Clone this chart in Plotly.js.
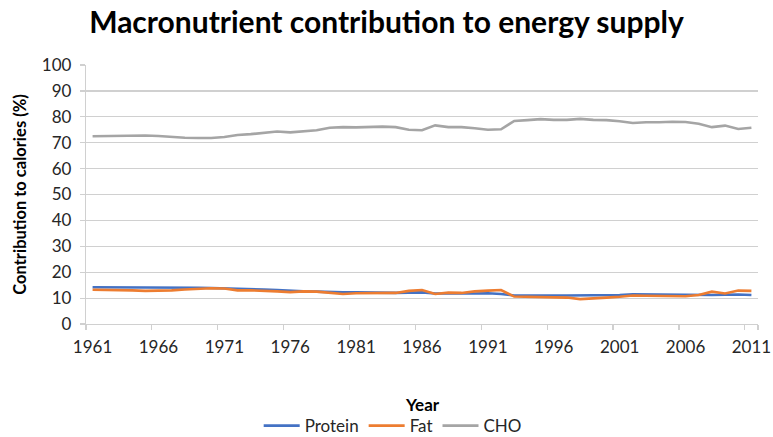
<!DOCTYPE html>
<html>
<head>
<meta charset="utf-8">
<script src="https://cdn.plot.ly/plotly-3.0.1.min.js"></script>
<style>html,body{margin:0;padding:0;background:#fff;}#chart{width:773px;height:437px;}</style>
</head>
<body>
<div id="chart"></div>
<script>
const years = [1961,1962,1963,1964,1965,1966,1967,1968,1969,1970,1971,1972,1973,1974,1975,1976,1977,1978,1979,1980,1981,1982,1983,1984,1985,1986,1987,1988,1989,1990,1991,1992,1993,1994,1995,1996,1997,1998,1999,2000,2001,2002,2003,2004,2005,2006,2007,2008,2009,2010,2011];
const protein = [14.2,14.2,14.1,14.1,14.0,14.0,14.0,14.1,14.0,13.9,13.8,13.7,13.5,13.3,13.1,12.8,12.6,12.5,12.3,12.2,12.2,12.1,12.1,12.0,12.1,12.2,11.8,11.7,11.8,11.8,11.9,11.6,11.0,11.0,10.9,11.0,11.0,11.0,11.0,11.1,11.2,11.5,11.4,11.3,11.3,11.2,11.2,11.2,11.3,11.4,11.2];
const fat = [13.2,13.2,13.1,13.0,12.8,12.8,13.0,13.3,13.5,13.8,13.7,13.0,13.0,12.9,12.6,12.3,12.6,12.5,12.0,11.6,11.9,12.0,11.9,12.0,12.8,13.1,11.6,12.1,12.0,12.6,12.9,13.1,10.6,10.5,10.3,10.2,10.2,9.6,10.0,10.2,10.5,11.0,10.9,10.8,10.8,10.7,11.2,12.5,11.8,12.9,12.8];
const cho = [72.5,72.6,72.8,72.9,72.8,72.6,72.2,71.9,71.8,71.8,72.2,73.0,73.3,73.7,74.3,74.0,74.4,74.8,75.8,76.0,75.9,76.0,76.2,76.0,75.0,74.8,76.7,76.0,76.0,75.6,75.0,75.2,78.4,78.7,79.1,78.8,78.8,79.2,78.8,78.7,78.3,77.6,77.9,77.9,78.1,78.0,77.3,76.0,76.6,75.3,75.8];
const tickYears = [1961,1966,1971,1976,1981,1986,1991,1996,2001,2006,2011];
const tickBounds = [1960.5,1965.5,1970.5,1975.5,1980.5,1985.5,1990.5,1995.5,2000.5,2005.5,2010.5,2011.5];
const yTicks = [0,10,20,30,40,50,60,70,80,90,100];
const xTitle = 'Year';

const fontFam = 'Lato, "Open Sans", sans-serif';
const gridCol = '#d0d0d0';

const traces = [
  {x: years, y: protein, name: 'Protein', type: 'scatter', mode: 'lines', line: {color: '#4472C4', width: 2.6}},
  {x: years, y: fat, name: 'Fat', type: 'scatter', mode: 'lines', line: {color: '#ED7D31', width: 2.6}},
  {x: years, y: cho, name: 'CHO', type: 'scatter', mode: 'lines', line: {color: '#A5A5A5', width: 2.6}},
  {x: [null], y: [null], xaxis: 'x2', yaxis: 'y', showlegend: false, hoverinfo: 'skip', type: 'scatter', mode: 'lines'}
];

const layout = {
  width: 773, height: 437,
  margin: {l: 86, r: 15, t: 65, b: 113},
  paper_bgcolor: '#fff', plot_bgcolor: '#fff',
  font: {family: fontFam, size: 17, color: '#262626'},
  title: {text: '<b>Macronutrient contribution to energy supply</b>', font: {family: fontFam, size: 30, color: '#000'}, x: 0.5, xanchor: 'center', xref: 'container', y: 0.948, yanchor: 'middle', yref: 'container'},
  showlegend: true,
  legend: {orientation: 'h', x: 0.508, xanchor: 'center', xref: 'container', y: 0.025, yanchor: 'middle', yref: 'container', itemwidth: 36, font: {family: fontFam, size: 17, color: '#262626'}, traceorder: 'normal'},
  annotations: [
    {text: '<b>' + xTitle + '</b>', xref: 'paper', x: 0.5, xanchor: 'center', yref: 'paper', y: -0.3127, yanchor: 'middle', showarrow: false, font: {family: fontFam, size: 17, color: '#000'}}
  ],
  xaxis: {
    range: [1960.5, 2011.5], tickvals: tickYears, ticktext: tickYears.map(String),
    ticks: 'outside', ticklen: 7, tickcolor: 'rgba(0,0,0,0)',
    showgrid: false, zeroline: false, showline: true, linecolor: gridCol, linewidth: 1.2,
    tickfont: {family: fontFam, size: 17, color: '#262626'},
    automargin: false
  },
  xaxis2: {
    overlaying: 'x', anchor: 'y', side: 'bottom', range: [1960.5, 2011.5],
    tickvals: tickBounds, ticks: 'outside', ticklen: 5, tickcolor: gridCol, tickwidth: 1.2,
    showticklabels: false, showgrid: false, zeroline: false, showline: false
  },
  yaxis: {
    range: [0, 100], tickvals: yTicks, ticks: 'outside', ticklen: 5, tickcolor: gridCol, tickwidth: 1.2,
    ticklabelstandoff: 5,
    showgrid: true, gridcolor: gridCol, gridwidth: 1.2, zeroline: false, showline: true, linecolor: gridCol, linewidth: 1.2,
    tickfont: {family: fontFam, size: 17, color: '#262626'},
    title: {text: '<b>Contribution to calories (%)</b>', font: {family: fontFam, size: 16.5, color: '#000'}, standoff: 11},
    automargin: false
  }
};

Plotly.newPlot('chart', traces, layout, {displayModeBar: false, staticPlot: true});
</script>
</body>
</html>
